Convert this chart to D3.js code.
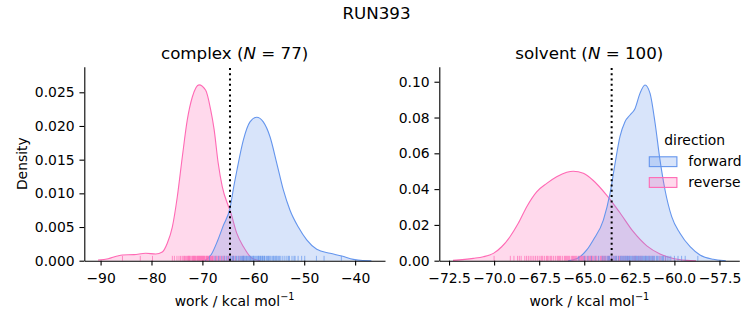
<!DOCTYPE html>
<html><head><meta charset="utf-8">
<script src="https://cdn.jsdelivr.net/npm/d3@7"></script>
<style>
body{margin:0;background:#fff}
svg{display:block}
text{font-family:"DejaVu Sans",sans-serif;fill:#000}
</style>
</head><body>
<svg id="chart" width="753" height="325"></svg>
<script>
// ---------------- data ----------------
const suptitle = "RUN393";
const directions = ["forward", "reverse"];
const directionColors = ["#6495ed", "#ff69b4"];

// KDE curves: [work, density]
const complexForward = [[-69.5,0],[-68.2,0.0010],[-67.0,0.0030],[-65.9,0.0052],[-64.58,0.0078],[-63.79,0.0112],[-63.2,0.0135],[-61.96,0.0179],[-60.65,0.0206],[-59.33,0.0213],[-58.04,0.0206],[-56.72,0.0184],[-55.4,0.0145],[-54.1,0.0105],[-52.79,0.0075],[-51.16,0.0050],[-49.51,0.0031],[-47.54,0.0017],[-44.93,0.0011],[-42.63,0.0007],[-40.35,0.0002],[-38.5,0.00003],[-36.8,0]];
const complexReverse = [[-90.5,0.0001],[-88.5,0.0003],[-86.72,0.0007],[-85.74,0.00085],[-83.44,0.0009],[-81.14,0.0011],[-79.17,0.0010],[-77.88,0.0013],[-76.9,0.0026],[-75.91,0.0050],[-74.93,0.0095],[-73.95,0.0154],[-72.97,0.0209],[-71.98,0.0243],[-70.67,0.0261],[-69.35,0.0253],[-68.4,0.0225],[-67.7,0.0195],[-66.9,0.0145],[-66.1,0.0110],[-65.0,0.0083],[-64.58,0.0075],[-63.26,0.0041],[-61.96,0.0021],[-60.31,0.0004],[-58.68,0]];
const solventForward = [[-65.9,0],[-65.4,0.0012],[-64.86,0.0060],[-64.5,0.0116],[-63.94,0.0227],[-63.57,0.0376],[-63.29,0.0544],[-63.02,0.0693],[-62.74,0.0777],[-62.46,0.0814],[-62.18,0.0851],[-61.91,0.0935],[-61.63,0.0982],[-61.35,0.0935],[-61.07,0.0768],[-60.8,0.0563],[-60.52,0.0395],[-60.15,0.0246],[-59.69,0.0153],[-59.13,0.0078],[-58.58,0.0032],[-57.84,0.0008],[-57.29,0.0001],[-57.15,0]];
const solventReverse = [[-72.28,0.0002],[-71.15,0.0013],[-70.6,0.0022],[-70.04,0.0041],[-69.58,0.0078],[-69.12,0.0134],[-68.66,0.0209],[-68.19,0.0302],[-67.64,0.0385],[-67.08,0.0432],[-66.53,0.0469],[-65.97,0.0494],[-65.61,0.0500],[-65.05,0.0488],[-64.5,0.0448],[-63.75,0.0365],[-63.02,0.0268],[-62.28,0.0162],[-61.53,0.0083],[-60.8,0.0038],[-60.06,0.0012],[-59.32,0.0002],[-58.8,0]];

// individual work values (rug marks)
const complexForwardWork = [-68.6,-67.5,-66.8,-66.2,-65.7,-65.3,-64.9,-64.5,-64.2,-64.0,-63.9,-63.6,-63.3,-63.0,-62.8,-62.5,-62.3,-62.1,-62.0,-61.9,-61.8,-61.6,-61.4,-61.3,-61.1,-60.9,-60.7,-60.6,-60.5,-60.3,-60.1,-60.0,-59.9,-59.7,-59.5,-59.3,-59.1,-59.0,-58.9,-58.7,-58.6,-58.5,-58.3,-58.2,-58.1,-57.9,-57.8,-57.7,-57.4,-57.2,-57.0,-56.9,-56.7,-56.5,-56.2,-56.0,-55.9,-55.6,-55.5,-55.3,-55.0,-54.9,-54.6,-54.2,-53.8,-53.4,-53.1,-52.9,-52.4,-52.0,-51.8,-51.2,-50.5,-49.9,-47.6,-46.1,-42.7];
const complexReverseWork = [-85.7,-82.2,-79.8,-75.9,-75.5,-75.0,-74.6,-74.3,-74.0,-73.8,-73.6,-73.5,-73.3,-73.1,-72.9,-72.8,-72.7,-72.6,-72.5,-72.4,-72.2,-72.0,-71.9,-71.8,-71.7,-71.6,-71.5,-71.4,-71.3,-71.1,-71.0,-70.9,-70.8,-70.7,-70.6,-70.5,-70.4,-70.3,-70.2,-70.1,-70.0,-69.9,-69.8,-69.7,-69.6,-69.5,-69.3,-69.2,-69.1,-69.0,-68.9,-68.8,-68.6,-68.5,-68.4,-68.2,-68.1,-68.0,-67.9,-67.7,-67.4,-67.2,-67.1,-66.8,-66.6,-66.4,-66.0,-65.8,-65.6,-65.1,-64.9,-64.6,-64.1,-63.9,-63.5,-62.8,-62.0];
const solventForwardWork = [-65.3,-65.0,-64.8,-64.6,-64.4,-64.2,-64.0,-63.9,-63.8,-63.7,-63.65,-63.6,-63.5,-63.4,-63.3,-63.25,-63.2,-63.1,-63.0,-62.95,-62.9,-62.85,-62.8,-62.75,-62.7,-62.65,-62.6,-62.55,-62.5,-62.45,-62.4,-62.35,-62.3,-62.25,-62.2,-62.15,-62.1,-62.05,-62.0,-61.95,-61.9,-61.85,-61.8,-61.75,-61.7,-61.65,-61.6,-61.55,-61.5,-61.45,-61.4,-61.35,-61.3,-61.25,-61.2,-61.15,-61.1,-61.0,-60.95,-60.9,-60.8,-60.7,-60.65,-60.6,-60.5,-60.4,-60.3,-60.2,-60.0,-59.8,-59.6,-59.4,-58.7];
const solventReverseWork = [-70.0,-69.1,-68.9,-68.7,-68.6,-68.5,-68.3,-68.2,-68.1,-68.0,-67.9,-67.8,-67.7,-67.6,-67.5,-67.4,-67.35,-67.3,-67.2,-67.1,-67.05,-67.0,-66.9,-66.85,-66.8,-66.7,-66.6,-66.5,-66.45,-66.4,-66.35,-66.3,-66.2,-66.1,-66.05,-66.0,-65.95,-65.9,-65.85,-65.8,-65.7,-65.65,-65.6,-65.55,-65.5,-65.45,-65.4,-65.3,-65.25,-65.2,-65.15,-65.1,-65.05,-65.0,-64.95,-64.9,-64.8,-64.75,-64.7,-64.65,-64.6,-64.55,-64.5,-64.4,-64.35,-64.3,-64.2,-64.1,-64.05,-64.0,-63.95,-63.9,-63.85,-63.8,-63.7,-63.65,-63.6,-63.5,-63.4,-63.3,-63.2,-63.1,-63.05,-63.0,-62.9,-62.8,-62.7,-62.6,-62.5,-62.3,-62.2,-62.15,-62.0,-61.9,-61.8,-61.6,-61.4,-61.2,-60.8,-60.5];

const panelNames = ["complex", "solvent"];
const panelN = [77, 100];
const freeEnergy = [-64.58, -63.48];        // dotted vertical lines
const complexXTicks = [-90, -80, -70, -60, -50, -40];
const solventXTicks = [-72.5, -70, -67.5, -65, -62.5, -60, -57.5];
const complexYTicks = [0, 0.005, 0.010, 0.015, 0.020, 0.025];
const solventYTicks = [0, 0.02, 0.04, 0.06, 0.08, 0.10];
const complexXDomain = [-93.2, -34.13], solventXDomain = [-73.04, -56.4];
const complexYDomain = [0, 0.0288], solventYDomain = [0, 0.1084];

// ---------------- drawing ----------------
const svg = d3.select("#chart");
const FS = 13.9, TFS = 16.7, TICK = 4.86;
const plotTop = 66.7, plotBottom = 260.7;

const panels = [
  {name: panelNames[0], n: panelN[0], left: 84.3, right: 385, xd: complexXDomain, yd: complexYDomain,
   xt: complexXTicks, yt: complexYTicks, xf: d3.format("d"), yf: d3.format(".3f"),
   curves: [complexForward, complexReverse], rugs: [complexForwardWork, complexReverseWork], fe: freeEnergy[0], ylabel: true},
  {name: panelNames[1], n: panelN[1], left: 439.3, right: 739.3, xd: solventXDomain, yd: solventYDomain,
   xt: solventXTicks, yt: solventYTicks, xf: d3.format(".1f"), yf: d3.format(".2f"),
   curves: [solventForward, solventReverse], rugs: [solventForwardWork, solventReverseWork], fe: freeEnergy[1], ylabel: false}
];

svg.append("text").attr("x", 376.5).attr("y", 19).attr("text-anchor", "middle")
  .style("font-size", TFS + "px").text(suptitle);

panels.forEach(p => {
  const x = d3.scaleLinear().domain(p.xd).range([p.left, p.right]);
  const y = d3.scaleLinear().domain(p.yd).range([plotBottom, plotTop]);
  const g = svg.append("g");

  const area = d3.area().x(d => x(d[0])).y0(y(0)).y1(d => y(d[1])).curve(d3.curveMonotoneX);
  const line = d3.line().x(d => x(d[0])).y(d => y(d[1])).curve(d3.curveMonotoneX);

  // reverse drawn first, forward on top (seaborn order)
  [1, 0].forEach(i => {
    g.append("path").attr("d", area(p.curves[i])).attr("fill", directionColors[i]).attr("fill-opacity", 0.25);
    g.append("path").attr("d", line(p.curves[i])).attr("fill", "none").attr("stroke", directionColors[i]).attr("stroke-width", 1.1);
  });
  // rug
  const rugH = 0.025 * (plotBottom - plotTop);
  [1, 0].forEach(i => {
    g.selectAll(null).data(p.rugs[i]).enter().append("line")
      .attr("x1", d => x(d)).attr("x2", d => x(d))
      .attr("y1", y(0)).attr("y2", y(0) - rugH)
      .attr("stroke", directionColors[i]).attr("stroke-width", 1).attr("stroke-opacity", 0.7);
  });
  // dotted line
  g.append("line").attr("x1", x(p.fe)).attr("x2", x(p.fe)).attr("y1", plotBottom).attr("y2", plotTop)
    .attr("stroke", "#000").attr("stroke-width", 2).attr("stroke-dasharray", "2,3.3");

  // axes
  const xa = svg.append("g").attr("transform", `translate(0,${plotBottom})`)
    .call(d3.axisBottom(x).tickValues(p.xt).tickFormat(p.xf).tickSize(TICK).tickSizeOuter(0).tickPadding(TICK));
  const ya = svg.append("g").attr("transform", `translate(${p.left},0)`)
    .call(d3.axisLeft(y).tickValues(p.yt).tickFormat(p.yf).tickSize(TICK).tickSizeOuter(0).tickPadding(TICK));
  [xa, ya].forEach(a => {
    a.attr("font-family", null).attr("font-size", null);
    a.selectAll("path,line").attr("stroke", "#000").attr("stroke-width", 1.1);
    a.selectAll("text").style("font-size", FS + "px").attr("fill", "#000");
  });
  xa.selectAll("text").attr("dy", null).attr("y", 22);
  ya.selectAll("text").attr("dy", "0.33em");

  // title
  const cx = (p.left + p.right) / 2;
  const t = svg.append("text").attr("x", cx).attr("y", 59.3).attr("text-anchor", "middle").style("font-size", TFS + "px");
  t.append("tspan").text(p.name + " (");
  t.append("tspan").style("font-style", "italic").text("N");
  t.append("tspan").text(" = " + p.n + ")");

  // x label
  const xl = svg.append("text").attr("x", cx).attr("y", 305.5).attr("text-anchor", "middle").style("font-size", FS + "px");
  xl.append("tspan").text("work / kcal mol");
  xl.append("tspan").attr("dy", -5.5).style("font-size", (FS * 0.7) + "px").text("\u22121");

  if (p.ylabel) {
    svg.append("text").attr("transform", `translate(26.5,${(plotTop + plotBottom) / 2}) rotate(-90)`)
      .attr("text-anchor", "middle").style("font-size", FS + "px").text("Density");
  }
});

// legend
const lg = svg.append("g");
lg.append("text").attr("x", 694.7).attr("y", 145.4).attr("text-anchor", "middle").style("font-size", FS + "px").text("direction");
directions.forEach((d, i) => {
  const yb = 166.3 + i * 20.8;
  lg.append("rect").attr("x", 649.3).attr("y", yb - 9.5).attr("width", 27.6).attr("height", 9.8)
    .attr("fill", directionColors[i]).attr("fill-opacity", 0.25).attr("stroke", directionColors[i]).attr("stroke-width", 1.1);
  lg.append("text").attr("x", 688.3).attr("y", yb).style("font-size", FS + "px").text(d);
});
</script>
</body></html>
